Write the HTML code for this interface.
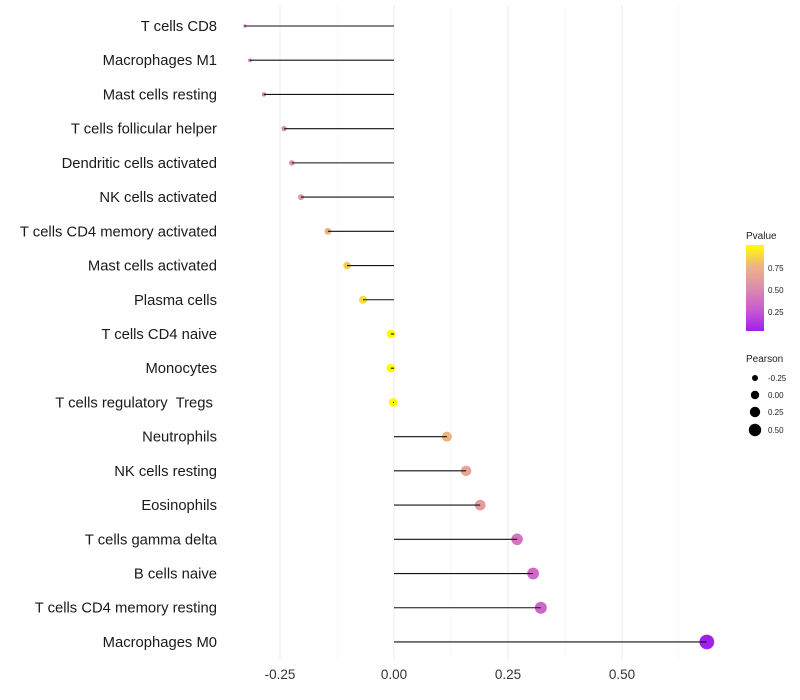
<!DOCTYPE html>
<html><head><meta charset="utf-8"><style>
body{margin:0;background:#fff;}
svg{display:block;font-family:"Liberation Sans",sans-serif;}
text{white-space:pre;}
</style></head><body>
<svg id="chart" width="800" height="700">
<defs><linearGradient id="pg" x1="0" y1="1" x2="0" y2="0">
<stop offset="0" stop-color="#A020F0"/><stop offset="0.25" stop-color="#C95CD0"/>
<stop offset="0.5" stop-color="#DC8CAE"/><stop offset="0.75" stop-color="#EDB483"/>
<stop offset="1" stop-color="#FFFF00"/></linearGradient></defs>
<g id="grid"></g><g id="marks"></g><g id="labels"></g>
<g>
<text x="746" y="239" font-size="10" fill="#222">Pvalue</text>
<rect x="746" y="245" width="18" height="86" fill="url(#pg)"/>
<text x="768" y="271" font-size="8" fill="#222">0.75</text>
<text x="768" y="293" font-size="8" fill="#222">0.50</text>
<text x="768" y="315" font-size="8" fill="#222">0.25</text>
</g>
<g>
<text x="746" y="362" font-size="10" fill="#222">Pearson</text>
<circle cx="755" cy="378" r="3" fill="#000"/><text x="768" y="381" font-size="8" fill="#222">-0.25</text>
<circle cx="755" cy="395" r="4.2" fill="#000"/><text x="768" y="398" font-size="8" fill="#222">0.00</text>
<circle cx="755" cy="412" r="5.2" fill="#000"/><text x="768" y="415" font-size="8" fill="#222">0.25</text>
<circle cx="755" cy="430" r="6.2" fill="#000"/><text x="768" y="433" font-size="8" fill="#222">0.50</text>
</g>
</svg>
<script>
const categories=["T cells CD8","Macrophages M1","Mast cells resting","T cells follicular helper","Dendritic cells activated","NK cells activated","T cells CD4 memory activated","Mast cells activated","Plasma cells","T cells CD4 naive","Monocytes","T cells regulatory  Tregs ","Neutrophils","NK cells resting","Eosinophils","T cells gamma delta","B cells naive","T cells CD4 memory resting","Macrophages M0"];
const pearson=[-0.327,-0.316,-0.285,-0.241,-0.224,-0.204,-0.145,-0.103,-0.068,-0.007,-0.007,-0.002,0.116,0.158,0.189,0.27,0.305,0.322,0.686];
const pvalue=[0.3,0.35,0.4,0.5,0.55,0.58,0.75,0.82,0.88,0.98,0.98,0.99,0.75,0.65,0.6,0.38,0.32,0.3,0.001];
const xTicks=[-0.25,0,0.25,0.5];
const xTickLabels=["-0.25","0.00","0.25","0.50"];
const NS="http://www.w3.org/2000/svg";
const xs=v=>394+v*456;
const ys=i=>26+i*34.22;
function col(p){const st=[[0,[160,32,240]],[0.25,[201,92,208]],[0.5,[220,140,174]],[0.75,[237,180,131]],[1,[255,255,0]]];
for(let k=1;k<st.length;k++){if(p<=st[k][0]){const a=st[k-1],b=st[k],t=(p-a[0])/(b[0]-a[0]);return "rgb("+a[1].map((c,j)=>Math.round(c+(b[1][j]-c)*t)).join(",")+")";}}return "rgb(255,255,0)";}
const mn=Math.min(...pearson),mx=Math.max(...pearson);
const rs=v=>Math.sqrt(2.5+(v-mn)/(mx-mn||1)*52);
function mk(t,a,p){const e=document.createElementNS(NS,t);for(const k in a)e.setAttribute(k,a[k]);p.appendChild(e);return e;}
const grid=document.getElementById('grid'),marks=document.getElementById('marks'),labels=document.getElementById('labels');
xTicks.forEach((t,i)=>{
const g=mk('line',{x1:xs(t),x2:xs(t),y1:5,y2:660,stroke:'#ebebeb','stroke-width':1},grid);


const m=mk('line',{x1:xs(t+0.125),x2:xs(t+0.125),y1:5,y2:660,stroke:'#f4f4f4','stroke-width':0.6},grid);


const tx=mk('text',{x:xs(t),y:679,'font-size':13.5,fill:'#333','text-anchor':'middle'},labels);
tx.textContent=xTickLabels[i];


});
categories.forEach((c,i)=>{
const y=ys(i);
const lb=mk('text',{x:217,y:y+5,'font-size':14.8,fill:'#1a1a1a','text-anchor':'end'},labels);
lb.textContent=c;


const pt=mk('circle',{cx:xs(pearson[i]),cy:y,r:rs(pearson[i]),fill:col(pvalue[i])},marks);


const ln=mk('line',{x1:xs(0),x2:xs(pearson[i]),y1:y,y2:y,stroke:'#111','stroke-width':1.1},marks);


});
</script>
</body></html>
